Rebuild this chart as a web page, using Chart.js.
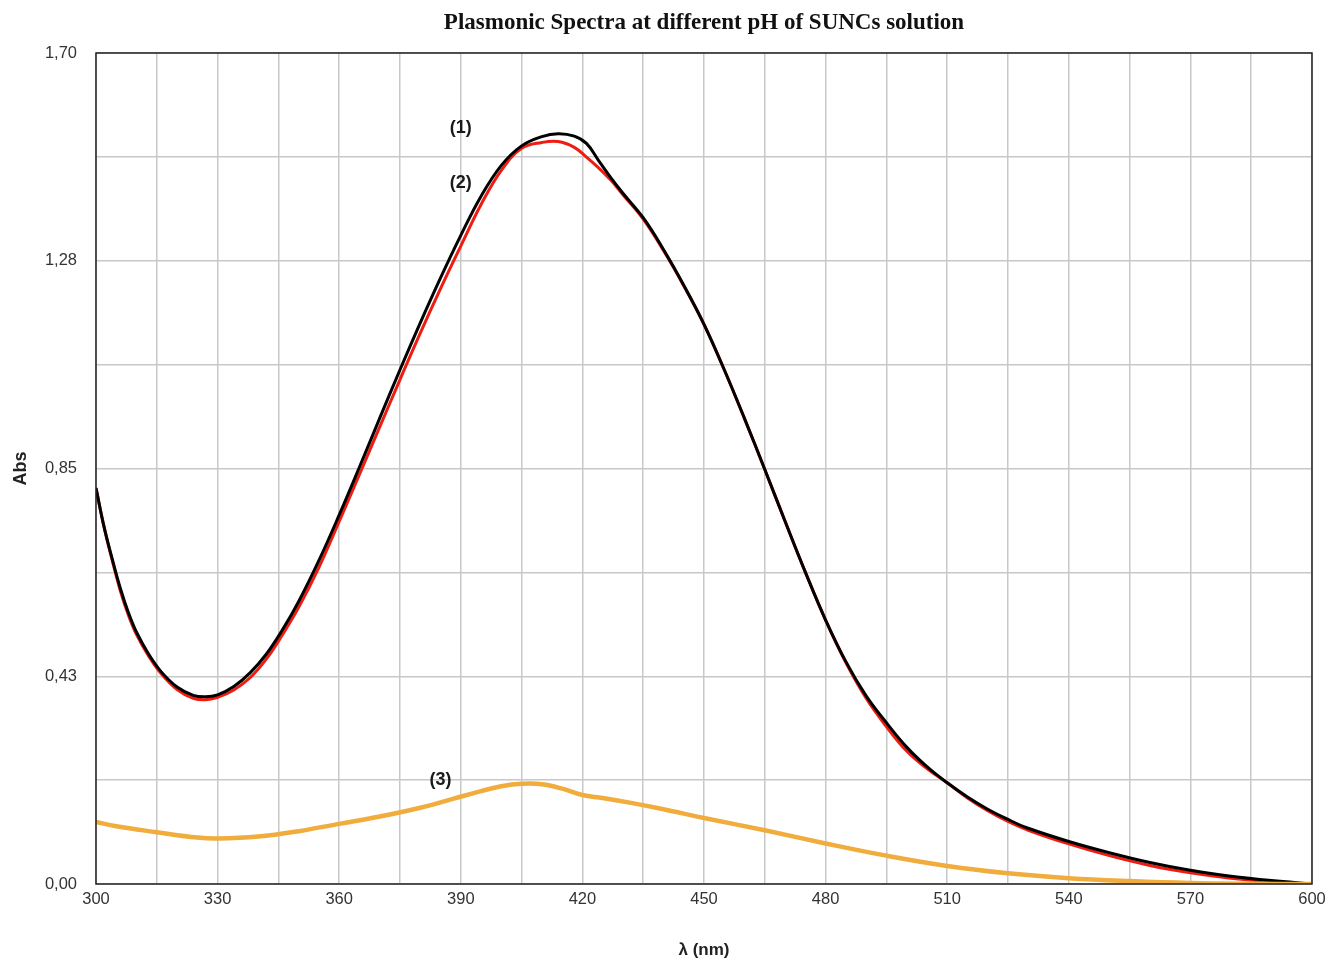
<!DOCTYPE html>
<html>
<head>
<meta charset="utf-8">
<script src="https://cdn.jsdelivr.net/npm/chart.js@4.4.1/dist/chart.umd.min.js"></script>
<style>
  html, body { margin: 0; padding: 0; background: #fff; }
  #wrap { width: 1327px; height: 961px; }
</style>
</head>
<body>
<div id="wrap"><canvas id="chart"></canvas></div>
<script>
// Data
const wavelengths = [300, 302, 304, 306, 308, 310, 313, 316, 320, 324, 327, 330, 334, 338, 342, 346, 350, 355, 360, 365, 370, 375, 380, 385, 390, 395, 400, 405, 410, 414, 418, 421, 424, 427, 430, 435, 440, 445, 450, 455, 460, 465, 470, 475, 480, 485, 490, 495, 500, 505, 510, 515, 520, 525, 530, 540, 550, 560, 570, 580, 590, 600];
const absCurve1 = [0.81, 0.73, 0.665, 0.605, 0.555, 0.515, 0.47, 0.435, 0.403, 0.386, 0.383, 0.387, 0.404, 0.432, 0.47, 0.52, 0.578, 0.662, 0.755, 0.853, 0.953, 1.052, 1.148, 1.24, 1.327, 1.407, 1.47, 1.51, 1.529, 1.535, 1.53, 1.515, 1.48, 1.445, 1.413, 1.363, 1.298, 1.225, 1.145, 1.052, 0.952, 0.848, 0.742, 0.638, 0.54, 0.455, 0.385, 0.33, 0.28, 0.24, 0.207, 0.178, 0.153, 0.132, 0.114, 0.087, 0.064, 0.044, 0.028, 0.016, 0.007, 0.0];
const absCurve2 = [0.81, 0.73, 0.662, 0.60, 0.55, 0.51, 0.466, 0.431, 0.398, 0.38, 0.377, 0.382, 0.397, 0.422, 0.46, 0.51, 0.566, 0.648, 0.742, 0.838, 0.935, 1.032, 1.127, 1.218, 1.305, 1.39, 1.46, 1.505, 1.517, 1.519, 1.507, 1.487, 1.465, 1.44, 1.41, 1.36, 1.296, 1.224, 1.145, 1.052, 0.952, 0.848, 0.742, 0.638, 0.54, 0.453, 0.38, 0.322, 0.272, 0.236, 0.207, 0.176, 0.15, 0.128, 0.11, 0.082, 0.058, 0.038, 0.023, 0.012, 0.005, 0.0];

const wavelengths3 = [300, 305, 315, 325, 330, 340, 350, 360, 370, 380, 388, 395, 400, 405, 410, 415, 420, 425, 432, 440, 450, 465, 480, 495, 510, 525, 540, 555, 570, 585, 600];
const absCurve3 = [0.127, 0.118, 0.106, 0.095, 0.093, 0.097, 0.108, 0.123, 0.138, 0.156, 0.174, 0.19, 0.2, 0.205, 0.204, 0.195, 0.182, 0.176, 0.166, 0.153, 0.135, 0.11, 0.083, 0.058, 0.037, 0.022, 0.012, 0.006, 0.002, 0.0005, 0.0];

const xTickLabels = ['300', '330', '360', '390', '420', '450', '480', '510', '540', '570', '600'];
const yTickLabels = ['0,00', '', '0,43', '', '0,85', '', '1,28', '', '1,70'];

const curveLabels = [
    { text: '(1)', x: 390, y: 1.547 },
    { text: '(2)', x: 390, y: 1.434 },
    { text: '(3)', x: 385, y: 0.212 }
];

function toPoints(xs, ys) {
    return xs.map((x, i) => ({ x: x, y: ys[i] }));
}

// Title, frame and curve labels
const decorPlugin = {
    id: 'decor',
    afterDraw(chart) {
        const { ctx, chartArea, scales } = chart;
        ctx.save();
        ctx.strokeStyle = '#222';
        ctx.lineWidth = 1.5;
        ctx.strokeRect(chartArea.left, chartArea.top, chartArea.right - chartArea.left, chartArea.bottom - chartArea.top);

        ctx.fillStyle = '#111';
        ctx.font = 'bold 23px "Liberation Serif", "Times New Roman", serif';
        ctx.textAlign = 'center';
        ctx.textBaseline = 'middle';
        ctx.fillText('Plasmonic Spectra at different pH of SUNCs solution', (chartArea.left + chartArea.right) / 2, 23);

        ctx.font = 'bold 18px "Liberation Sans", Arial, sans-serif';
        ctx.fillStyle = '#1a1a1a';
        curveLabels.forEach(l => {
            ctx.fillText(l.text, scales.x.getPixelForValue(l.x), scales.y.getPixelForValue(l.y));
        });
        ctx.restore();
    }
};

new Chart(document.getElementById('chart'), {
    type: 'line',
    data: {
        datasets: [
            {
                label: '(3)',
                data: toPoints(wavelengths3, absCurve3),
                borderColor: '#f0ac3c',
                borderWidth: 4.5,
                pointRadius: 0,
                tension: 0.4
            },
            {
                label: '(1)',
                data: toPoints(wavelengths, absCurve1),
                borderColor: '#000000',
                borderWidth: 3,
                pointRadius: 0,
                tension: 0.4
            },
            {
                label: '(2)',
                data: toPoints(wavelengths, absCurve2),
                borderColor: '#ee1c12',
                borderWidth: 3,
                pointRadius: 0,
                tension: 0.4
            }
        ]
    },
    options: {
        responsive: true,
        maintainAspectRatio: false,
        animation: false,
        layout: { padding: { top: 53, right: 15, left: 0, bottom: 0 } },
        plugins: {
            legend: { display: false },
            tooltip: { enabled: false }
        },
        scales: {
            x: {
                type: 'linear',
                min: 300,
                max: 600,
                afterBuildTicks(scale) {
                    const t = [];
                    for (let v = 300; v <= 600; v += 15) t.push({ value: v });
                    scale.ticks = t;
                },
                afterFit(scale) {
                    scale.height = 77;
                    scale.paddingLeft = 0;
                    scale.paddingRight = 0;
                },
                grid: { color: '#c8c8c8', lineWidth: 1.5, drawTicks: false },
                border: { display: false },
                ticks: {
                    autoSkip: false,
                    maxRotation: 0,
                    padding: 6,
                    color: '#333',
                    font: { family: '"Liberation Sans", Arial, sans-serif', size: 16.5 },
                    callback(value, index) {
                        return index % 2 === 0 ? xTickLabels[index / 2] : '';
                    }
                },
                title: {
                    display: true,
                    text: 'λ (nm)',
                    color: '#222',
                    padding: { top: 0, bottom: 0 },
                    font: { family: '"Liberation Sans", Arial, sans-serif', size: 17, weight: 'bold' }
                }
            },
            y: {
                min: 0,
                max: 1.7,
                afterBuildTicks(scale) {
                    const t = [];
                    for (let i = 0; i <= 8; i++) t.push({ value: i * 0.2125 });
                    scale.ticks = t;
                },
                afterFit(scale) { scale.width = 96; },
                grid: { color: '#c8c8c8', lineWidth: 1.5, drawTicks: false },
                border: { display: false },
                ticks: {
                    autoSkip: false,
                    padding: 19,
                    color: '#333',
                    font: { family: '"Liberation Sans", Arial, sans-serif', size: 16.5 },
                    callback(value, index) {
                        return yTickLabels[index];
                    }
                },
                title: {
                    display: true,
                    text: 'Abs',
                    color: '#222',
                    padding: { top: 10, bottom: 0 },
                    font: { family: '"Liberation Sans", Arial, sans-serif', size: 18, weight: 'bold' }
                }
            }
        }
    },
    plugins: [decorPlugin]
});
</script>
</body>
</html>
